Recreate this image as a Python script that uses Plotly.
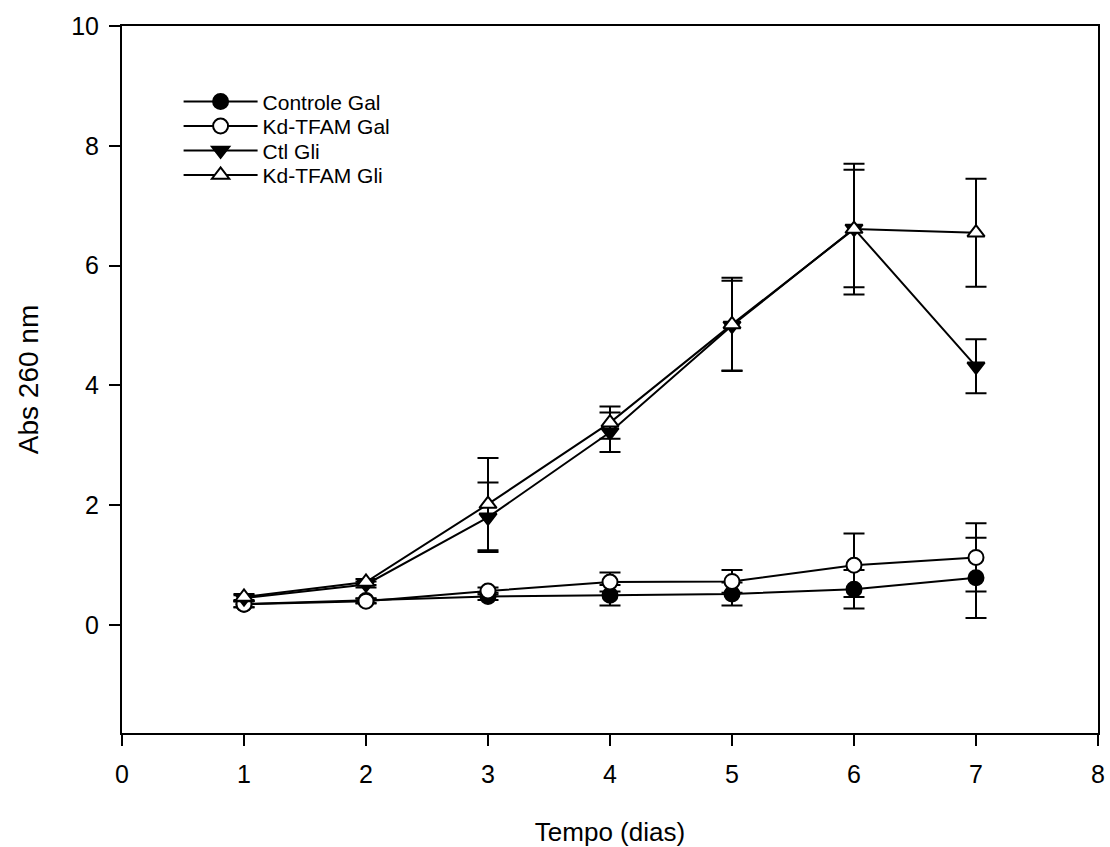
import plotly.graph_objects as go

days = [1, 2, 3, 4, 5, 6, 7]

controle_gal = [0.35, 0.41, 0.48, 0.50, 0.52, 0.60, 0.79]
controle_gal_err = [0.05, 0.04, 0.06, 0.17, 0.19, 0.32, 0.67]

kd_tfam_gal = [0.35, 0.40, 0.57, 0.72, 0.73, 1.00, 1.13]
kd_tfam_gal_err = [0.05, 0.04, 0.06, 0.16, 0.19, 0.53, 0.57]

ctl_gli = [0.45, 0.68, 1.80, 3.22, 5.00, 6.62, 4.32]
ctl_gli_err = [0.05, 0.05, 0.58, 0.33, 0.75, 0.98, 0.45]

kd_tfam_gli = [0.47, 0.72, 2.02, 3.38, 5.02, 6.61, 6.55]
kd_tfam_gli_err = [0.05, 0.05, 0.77, 0.27, 0.78, 1.09, 0.90]

series_names = ["Controle Gal", "Kd-TFAM Gal", "Ctl Gli", "Kd-TFAM Gli"]
series_values = [controle_gal, kd_tfam_gal, ctl_gli, kd_tfam_gli]
series_errors = [controle_gal_err, kd_tfam_gal_err, ctl_gli_err, kd_tfam_gli_err]
series_symbols = ["circle", "circle", "triangle-down", "triangle-up"]
series_fills = ["black", "white", "black", "white"]

legend_ids = ["legend", "legend2", "legend3", "legend4"]
legend_rows_px = [102, 126.5, 151, 175.5]

W, H = 1110, 847
ML, MR, MT, MB = 122, 5, 26, 113
plot_h = H - MT - MB
plot_w = W - ML - MR

fig = go.Figure()
for name, vals, errs, sym, fill, lg in zip(series_names, series_values, series_errors,
                                          series_symbols, series_fills, legend_ids):
    fig.add_trace(go.Scatter(
        x=days, y=vals, name=name, mode="lines+markers", legend=lg,
        line=dict(color="black", width=2),
        marker=dict(symbol=sym, size=15, color=fill,
                    line=dict(color="black", width=2)),
        error_y=dict(type="data", array=errs, visible=True,
                     color="black", thickness=2, width=10.5),
    ))

font_family = "Liberation Sans, Arial, sans-serif"
legend_layout = {}
for lg, py in zip(legend_ids, legend_rows_px):
    legend_layout[lg] = dict(
        x=(179 - ML) / plot_w, y=1 - (py - MT) / plot_h,
        xanchor="left", yanchor="middle",
        bgcolor="rgba(0,0,0,0)", borderwidth=0,
        font=dict(size=21, family=font_family, color="black"),
        itemwidth=74,
    )

fig.update_layout(
    width=W, height=H,
    margin=dict(l=ML, r=MR, t=MT, b=MB),
    paper_bgcolor="white", plot_bgcolor="white",
    font=dict(family=font_family, size=21, color="black"),
    showlegend=True,
    xaxis=dict(
        range=[0, 8], tickmode="linear", dtick=1, tick0=0,
        showgrid=False, zeroline=False,
        showline=True, linecolor="black", linewidth=2, mirror=True,
        ticks="outside", ticklen=11, tickwidth=2, tickcolor="black",
        tickfont=dict(size=25), ticklabelstandoff=7,
        title=dict(text="Tempo (dias)", font=dict(size=26), standoff=36),
    ),
    yaxis=dict(
        range=[-1.8, 10], tickmode="array", tickvals=[0, 2, 4, 6, 8, 10],
        showgrid=False, zeroline=False,
        showline=True, linecolor="black", linewidth=2, mirror=True,
        ticks="outside", ticklen=11, tickwidth=2, tickcolor="black",
        tickfont=dict(size=25), ticklabelstandoff=5,
        title=dict(text="Abs 260 nm", font=dict(size=28), standoff=24),
    ),
    **legend_layout,
)

fig.write_html("out.html")
